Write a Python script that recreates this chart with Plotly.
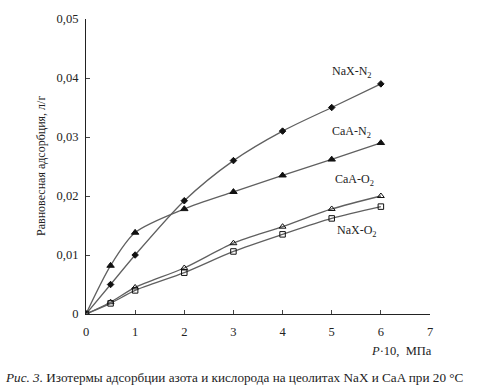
import plotly.graph_objects as go

# Data
pressure = [0, 0.5, 1, 2, 3, 4, 5, 6]
nax_n2 = [0, 0.0050, 0.0100, 0.0192, 0.0260, 0.0310, 0.0350, 0.0390]
caa_n2 = [0, 0.0082, 0.0138, 0.0178, 0.0207, 0.0235, 0.0262, 0.0290]
caa_o2 = [0, 0.0020, 0.0045, 0.0078, 0.0120, 0.0148, 0.0178, 0.0200]
nax_o2 = [0, 0.0018, 0.0040, 0.0070, 0.0106, 0.0135, 0.0162, 0.0182]

y_ticks = [0, 0.01, 0.02, 0.03, 0.04, 0.05]
y_tick_labels = ["0", "0,01", "0,02", "0,03", "0,04", "0,05"]
x_ticks = [0, 1, 2, 3, 4, 5, 6, 7]

series = [
    ("NaX-N<sub>2</sub>", nax_n2, "diamond", 5),
    ("CaA-N<sub>2</sub>", caa_n2, "triangle-up", 6.5),
    ("CaA-O<sub>2</sub>", caa_o2, "triangle-up-open", 6),
    ("NaX-O<sub>2</sub>", nax_o2, "square-open", 5.5),
]

FONT = "Liberation Serif, Times New Roman, serif"
TXT = "#222222"
L, R, T, B = 86, 48, 15, 74
PW = 478 - L - R
PH = 388 - T - B


def px_x(px):
    return (px - L) / PW


def px_y(py):
    return (388 - B - py) / PH


fig = go.Figure()
for name, vals, sym, sz in series:
    fig.add_trace(go.Scatter(
        x=pressure, y=vals, mode="lines+markers", name=name,
        line=dict(color="#606060", width=1.3, shape="spline", smoothing=0.8),
        marker=dict(symbol=sym, size=sz, color="#111111",
                    line=dict(color="#111111", width=1)),
        showlegend=False,
    ))

labels = [
    ("NaX-N<sub>2</sub>", 5.41, 0.0411),
    ("CaA-N<sub>2</sub>", 5.41, 0.0309),
    ("CaA-O<sub>2</sub>", 5.47, 0.0227),
    ("NaX-O<sub>2</sub>", 5.51, 0.0140),
]
annotations = [dict(x=x, y=y, xref="x", yref="y", text=t, showarrow=False,
                    font=dict(family=FONT, size=12, color=TXT))
               for t, x, y in labels]

annotations += [
    dict(x=px_x(41), y=px_y(164), xref="paper", yref="paper", xanchor="center",
         yanchor="middle", text="Равновесная адсорбция, л/г", textangle=-90,
         showarrow=False, font=dict(family=FONT, size=12, color=TXT)),
    dict(x=px_x(434), y=px_y(352), xref="paper", yref="paper", xanchor="right",
         yanchor="middle", text="<i>P</i>·10,  МПа", showarrow=False,
         font=dict(family=FONT, size=12.5, color=TXT)),
    dict(x=px_x(234), y=px_y(378), xref="paper", yref="paper",
         xanchor="center", yanchor="middle",
         text="<i>Рис. 3.</i> Изотермы адсорбции азота и кислорода на цеолитах NaX и CaA при 20 °C",
         showarrow=False, font=dict(family=FONT, size=13.2, color=TXT)),
]

fig.update_layout(
    width=478, height=388,
    margin=dict(l=L, r=R, t=T, b=B),
    paper_bgcolor="white", plot_bgcolor="white",
    font=dict(family=FONT, size=12, color=TXT),
    xaxis=dict(range=[0, 7], tickvals=x_ticks, ticks="inside", ticklen=4,
               showline=True, linecolor=TXT, linewidth=1.2,
               showgrid=False, zeroline=False, tickfont=dict(size=12.5),
               ticklabelstandoff=6),
    yaxis=dict(range=[0, 0.05], tickvals=y_ticks, ticktext=y_tick_labels,
               ticks="inside", ticklen=4, showline=True, linecolor=TXT,
               linewidth=1.2, showgrid=False, zeroline=False,
               tickfont=dict(size=12.5), ticklabelstandoff=4),
    annotations=annotations,
)

fig.write_html("out.html",
               config={"displayModeBar": False},
               post_script="document.body.style.margin='0';document.body.style.overflow='hidden';")
